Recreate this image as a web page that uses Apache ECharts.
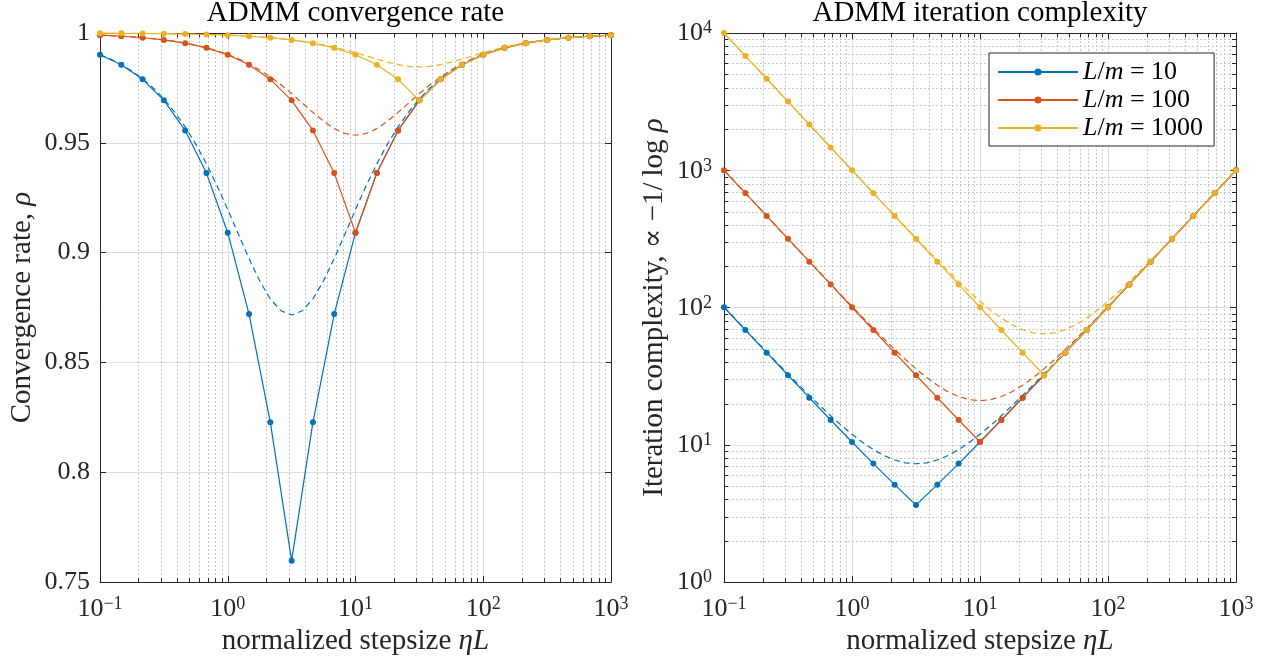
<!DOCTYPE html>
<html><head><meta charset="utf-8">
<script src="https://cdn.jsdelivr.net/npm/echarts@6/dist/echarts.min.js"></script>
<style>html,body{margin:0;padding:0;background:#fff}#c{width:1267px;height:661px}</style>
</head><body><div id="c"></div>
<script>
// ---------------- data ----------------
const stepSolid = [0.1, 0.14678, 0.21544, 0.31623, 0.46416, 0.68129, 1, 1.4678, 2.1544, 3.1623, 4.6416, 6.8129, 10, 14.678, 21.544, 31.623, 46.416, 68.129, 100, 146.78, 215.44, 316.23, 464.16, 681.29, 1000];
const stepDashed = [0.1, 0.12115, 0.14678, 0.17783, 0.21544, 0.26102, 0.31623, 0.38312, 0.46416, 0.56234, 0.68129, 0.8254,
  1, 1.2115, 1.4678, 1.7783, 2.1544, 2.6102, 3.1623, 3.8312, 4.6416, 5.6234, 6.8129, 8.254,
  10, 12.115, 14.678, 17.783, 21.544, 26.102, 31.623, 38.312, 46.416, 56.234, 68.129, 82.54,
  100, 121.15, 146.78, 177.83, 215.44, 261.02, 316.23, 383.12, 464.16, 562.34, 681.29, 825.4, 1000];

const legendNames = ['L/m = 10', 'L/m = 100', 'L/m = 1000'];

const rateSolid10 = [0.99010, 0.98553, 0.97891, 0.96935, 0.95564, 0.93622, 0.90909, 0.87201, 0.82275, 0.75975, 0.82275, 0.87201, 0.90909, 0.93622, 0.95564, 0.96935, 0.97891, 0.98553, 0.99010, 0.99323, 0.99538, 0.99685, 0.99785, 0.99853, 0.99900];
const rateSolid100 = [0.99900, 0.99853, 0.99785, 0.99685, 0.99538, 0.99323, 0.99010, 0.98553, 0.97891, 0.96935, 0.95564, 0.93622, 0.90909, 0.93622, 0.95564, 0.96935, 0.97891, 0.98553, 0.99010, 0.99323, 0.99538, 0.99685, 0.99785, 0.99853, 0.99900];
const rateSolid1000 = [0.99990, 0.99985, 0.99978, 0.99968, 0.99954, 0.99932, 0.99900, 0.99853, 0.99785, 0.99685, 0.99538, 0.99323, 0.99010, 0.98553, 0.97891, 0.96935, 0.97891, 0.98553, 0.99010, 0.99323, 0.99538, 0.99685, 0.99785, 0.99853, 0.99900];

const rateBound10 = [0.99014, 0.98809, 0.98564, 0.98269, 0.97916, 0.97497, 0.96999, 0.96413, 0.95729, 0.94940, 0.94042, 0.93044, 0.91963, 0.90838, 0.89728, 0.88715, 0.87892, 0.87352, 0.87163,
  0.87352, 0.87892, 0.88715, 0.89728, 0.90838, 0.91963, 0.93044, 0.94042, 0.94940, 0.95729, 0.96413, 0.96999, 0.97497, 0.97916, 0.98269, 0.98564, 0.98809, 0.99014,
  0.99184, 0.99325, 0.99442, 0.99539, 0.99619, 0.99685, 0.99740, 0.99785, 0.99823, 0.99854, 0.99879, 0.99900];
const rateBound100 = [0.99900, 0.99879, 0.99854, 0.99823, 0.99785, 0.99740, 0.99686, 0.99620, 0.99540, 0.99444, 0.99328, 0.99190, 0.99024, 0.98826, 0.98593, 0.98319, 0.98002, 0.97641, 0.97242, 0.96817, 0.96386, 0.95983, 0.95648, 0.95425, 0.95346,
  0.95425, 0.95648, 0.95983, 0.96386, 0.96817, 0.97242, 0.97641, 0.98002, 0.98319, 0.98593, 0.98826, 0.99024, 0.99190, 0.99328, 0.99444, 0.99540, 0.99620, 0.99686, 0.99740, 0.99785, 0.99823, 0.99854, 0.99879, 0.99900];
const rateBound1000 = [0.99990, 0.99988, 0.99985, 0.99982, 0.99978, 0.99974, 0.99968, 0.99962, 0.99954, 0.99944, 0.99932, 0.99918, 0.99900, 0.99879, 0.99854, 0.99823, 0.99786, 0.99742, 0.99688, 0.99625, 0.99549, 0.99459, 0.99355, 0.99236, 0.99103, 0.98960, 0.98814, 0.98676, 0.98560, 0.98483, 0.98455,
  0.98483, 0.98560, 0.98676, 0.98814, 0.98960, 0.99103, 0.99236, 0.99355, 0.99459, 0.99549, 0.99625, 0.99688, 0.99742, 0.99786, 0.99823, 0.99854, 0.99879, 0.99900];

const iterSolid10 = [100.5, 68.63, 46.91, 32.12, 22.04, 15.17, 10.49, 7.302, 5.125, 3.639, 5.125, 7.302, 10.49, 15.17, 22.04, 32.12, 46.91, 68.63, 100.5, 147.3, 215.9, 316.7, 464.7, 681.8, 1000.5];
const iterSolid100 = [1000.5, 681.8, 464.7, 316.7, 215.9, 147.3, 100.5, 68.63, 46.91, 32.12, 22.04, 15.17, 10.49, 15.17, 22.04, 32.12, 46.91, 68.63, 100.5, 147.3, 215.9, 316.7, 464.7, 681.8, 1000.5];
const iterSolid1000 = [10000.5, 6813, 4642, 3163, 2155, 1468, 1000.5, 681.8, 464.7, 316.7, 215.9, 147.3, 100.5, 68.63, 46.91, 32.12, 46.91, 68.63, 100.5, 147.3, 215.9, 316.7, 464.7, 681.8, 1000.5];

const iterBound10 = [100.92, 83.49, 69.11, 57.26, 47.49, 39.44, 32.82, 27.38, 22.91, 19.26, 16.28, 13.87, 11.94, 10.41, 9.226, 8.351, 7.748, 7.395, 7.279,
  7.395, 7.748, 8.351, 9.226, 10.41, 11.94, 13.87, 16.28, 19.26, 22.91, 27.38, 32.82, 39.44, 47.49, 57.26, 69.11, 83.49, 100.92,
  122.04, 147.65, 178.67, 216.27, 261.82, 317.02, 383.89, 464.92, 563.09, 682.03, 826.13, 1000.7];
const iterBound100 = [1000.9, 826.35, 682.28, 563.37, 465.24, 384.25, 317.43, 262.30, 216.82, 179.31, 148.39, 122.92, 101.94, 84.70, 70.55, 58.97, 49.54, 41.89, 35.76, 30.91, 27.17, 24.39, 22.47, 21.35, 20.98,
  21.35, 22.47, 24.39, 27.17, 30.91, 35.76, 41.89, 49.54, 58.97, 70.55, 84.70, 101.94, 122.92, 148.39, 179.31, 216.82, 262.30, 317.43, 384.25, 465.24, 563.37, 682.28, 826.35, 1000.9];
const iterBound1000 = [10000.9, 8254.7, 6813.9, 5624.6, 4642.7, 3832.4, 3163.5, 2611.4, 2155.8, 1779.8, 1469.4, 1213.3, 1001.9, 827.56, 683.72, 565.08, 467.28, 386.70, 320.37, 265.83, 221.07, 184.44, 154.58, 130.40, 110.99, 95.65, 83.80, 75.01, 68.95, 65.41, 64.24,
  65.41, 68.95, 75.01, 83.80, 95.65, 110.99, 130.40, 154.58, 184.44, 221.07, 265.83, 320.37, 386.70, 467.28, 565.08, 683.72, 827.56, 1001.9];

const minorSteps = [0.2,0.3,0.4,0.5,0.6,0.7,0.8,0.9, 2,3,4,5,6,7,8,9, 20,30,40,50,60,70,80,90, 200,300,400,500,600,700,800,900];
const minorIter = [2,3,4,5,6,7,8,9, 20,30,40,50,60,70,80,90, 200,300,400,500,600,700,800,900, 2000,3000,4000,5000,6000,7000,8000,9000];

// ---------------- style ----------------
const SERIF = '"Liberation Serif", "DejaVu Serif", serif';
const AX = '#262626';
const COLORS = ['#0072BD', '#D95319', '#EDB120'];
const G = [{left: 100, top: 33, width: 511, height: 556}, {left: 724, top: 33, width: 512, height: 556}];
const NAME_SIZE = 29;

const supRich = {
  b: {fontFamily: SERIF, fontSize: 26, color: AX, lineHeight: 27, verticalAlign: 'bottom'},
  s: {fontFamily: SERIF, fontSize: 18, color: AX, lineHeight: 18, verticalAlign: 'top'}
};
function powLabel(v) {
  const e = Math.round(Math.log10(v));
  return '{b|10}{s|' + (e < 0 ? '\u2212' + (-e) : e) + '}';
}
const nameStyle = {fontFamily: SERIF, fontSize: NAME_SIZE, color: AX,
  rich: {i: {fontFamily: SERIF, fontSize: NAME_SIZE, fontStyle: 'italic', color: AX}}};

function stepAxis(gridIndex, primary) {
  return {
    type: 'log', logBase: 10, min: 0.1, max: 1000, gridIndex,
    position: primary ? 'bottom' : 'top',
    axisLine: {show: true, onZero: false, lineStyle: {color: AX, width: 1}},
    axisTick: {show: true, inside: true, length: 6, lineStyle: {color: AX}},
    axisLabel: primary ? {show: true, margin: 13, formatter: powLabel, rich: supRich} : {show: false},
    splitLine: {show: primary, lineStyle: {color: '#dedede', width: 1}},
    minorTick: {show: false}, minorSplitLine: {show: false},
    name: primary ? 'normalized stepsize {i|\u03B7}{i|L}' : '',
    nameLocation: 'middle', nameGap: 44, nameTextStyle: nameStyle
  };
}
function rateAxis(primary) {
  return {
    type: 'value', min: 0.75, max: 1, interval: 0.05, gridIndex: 0,
    position: primary ? 'left' : 'right',
    axisLine: {show: true, onZero: false, lineStyle: {color: AX, width: 1}},
    axisTick: {show: true, inside: true, length: 6, lineStyle: {color: AX}},
    axisLabel: primary ? {show: true, margin: 10, fontFamily: SERIF, fontSize: 26, color: AX} : {show: false},
    splitLine: {show: primary, lineStyle: {color: '#dedede', width: 1}},
    name: primary ? 'Convergence rate, {i|\u03C1}' : '',
    nameLocation: 'middle', nameRotate: 90, nameGap: 63, nameTextStyle: nameStyle
  };
}
function iterAxis(primary) {
  return {
    type: 'log', logBase: 10, min: 1, max: 10000, gridIndex: 1,
    position: primary ? 'left' : 'right',
    axisLine: {show: true, onZero: false, lineStyle: {color: AX, width: 1}},
    axisTick: {show: true, inside: true, length: 6, lineStyle: {color: AX}},
    axisLabel: primary ? {show: true, margin: 12, formatter: powLabel, rich: supRich} : {show: false},
    splitLine: {show: primary, lineStyle: {color: '#dedede', width: 1}},
    name: primary ? 'Iteration complexity, \u221D \u22121/\u2009log {i|\u03C1}' : '',
    nameLocation: 'middle', nameRotate: 90, nameGap: 55, nameTextStyle: nameStyle
  };
}

// minor grid lines + minor ticks drawn through the axes' own coordinate mapping
function minorLayer(xAxisIndex, yAxisIndex, yMin, yMax, yMinors) {
  return {
    type: 'custom', xAxisIndex, yAxisIndex, silent: true, z: 1, clip: false,
    data: [[1, yMin]],
    renderItem: function (params, api) {
      const ch = [];
      const left = api.coord([0.1, yMin])[0], right = api.coord([1000, yMin])[0];
      const bottom = api.coord([1, yMin])[1], top = api.coord([1, yMax])[1];
      const dot = {stroke: '#c8c8c8', lineWidth: 1, lineDash: [2, 2]};
      const tk = {stroke: AX, lineWidth: 1};
      minorSteps.forEach(function (v) {
        const x = Math.round(api.coord([v, yMin])[0]) + 0.5;
        ch.push({type: 'line', shape: {x1: x, y1: top, x2: x, y2: bottom}, style: dot});
        ch.push({type: 'line', shape: {x1: x, y1: bottom, x2: x, y2: bottom - 4}, style: tk, z2: 5});
        ch.push({type: 'line', shape: {x1: x, y1: top, x2: x, y2: top + 4}, style: tk, z2: 5});
      });
      (yMinors || []).forEach(function (v) {
        const y = Math.round(api.coord([1, v])[1]) + 0.5;
        ch.push({type: 'line', shape: {x1: left, y1: y, x2: right, y2: y}, style: dot});
        ch.push({type: 'line', shape: {x1: left, y1: y, x2: left + 4, y2: y}, style: tk, z2: 5});
        ch.push({type: 'line', shape: {x1: right, y1: y, x2: right - 4, y2: y}, style: tk, z2: 5});
      });
      return {type: 'group', children: ch};
    }
  };
}

function solid(name, xs, ys, c, xi, yi) {
  return {type: 'line', name, xAxisIndex: xi, yAxisIndex: yi, data: xs.map((x, k) => [x, ys[k]]),
    symbol: 'circle', symbolSize: 6, showSymbol: true, clip: false, z: 3,
    lineStyle: {color: c, width: 1.2}, itemStyle: {color: c}, emphasis: {disabled: true}};
}
function dashed(name, xs, ys, c, xi, yi) {
  return {type: 'line', name, xAxisIndex: xi, yAxisIndex: yi, data: xs.map((x, k) => [x, ys[k]]),
    symbol: 'none', clip: true, z: 3, smooth: false,
    lineStyle: {color: c, width: 1.2, type: [6, 4]}, emphasis: {disabled: true}};
}

const rateSolids = [rateSolid10, rateSolid100, rateSolid1000];
const rateBounds = [rateBound10, rateBound100, rateBound1000];
const iterSolids = [iterSolid10, iterSolid100, iterSolid1000];
const iterBounds = [iterBound10, iterBound100, iterBound1000];

const series = [minorLayer(0, 0, 0.75, 1, null), minorLayer(2, 2, 1, 10000, minorIter)];
for (let k = 0; k < 3; k++) {
  series.push(solid(legendNames[k], stepSolid, rateSolids[k], COLORS[k], 0, 0));
  series.push(dashed('bound ' + legendNames[k], stepDashed, rateBounds[k], COLORS[k], 0, 0));
}
for (let k = 0; k < 3; k++) {
  series.push(solid(legendNames[k], stepSolid, iterSolids[k], COLORS[k], 2, 2));
  series.push(dashed('bound ' + legendNames[k], stepDashed, iterBounds[k], COLORS[k], 2, 2));
}

const chart = echarts.init(document.getElementById('c'), null, {renderer: 'canvas'});
chart.setOption({
  animation: false,
  backgroundColor: '#fff',
  grid: G,
  xAxis: [stepAxis(0, true), stepAxis(0, false), stepAxis(1, true), stepAxis(1, false)],
  yAxis: [rateAxis(true), rateAxis(false), iterAxis(true), iterAxis(false)],
  legend: {
    data: legendNames, orient: 'vertical', left: 989, top: 53,
    backgroundColor: '#fff', borderColor: AX, borderWidth: 1, borderRadius: 0,
    padding: [5, 11, 4, 8], itemWidth: 80, itemHeight: 9, itemGap: 0,
    selectedMode: false,
    textStyle: {fontFamily: SERIF, fontSize: 26, color: '#000', lineHeight: 28,
      rich: {i: {fontFamily: SERIF, fontSize: 26, fontStyle: 'italic', color: '#000', lineHeight: 28},
             t: {fontFamily: SERIF, fontSize: 26, color: '#000', lineHeight: 28}}},
    formatter: function (n) { return '{i|L}{t|/}{i|m}{t| = ' + n.split('= ')[1] + '}'; }
  },
  graphic: [
    {type: 'text', x: G[0].left + G[0].width / 2, y: 13.5, silent: true,
     style: {text: 'ADMM convergence rate', fontFamily: SERIF, fontSize: NAME_SIZE, fill: '#000', align: 'center', verticalAlign: 'middle'}},
    {type: 'text', x: G[1].left + G[1].width / 2, y: 13.5, silent: true,
     style: {text: 'ADMM iteration complexity', fontFamily: SERIF, fontSize: NAME_SIZE, fill: '#000', align: 'center', verticalAlign: 'middle'}}
  ],
  series
});
</script></body></html>
